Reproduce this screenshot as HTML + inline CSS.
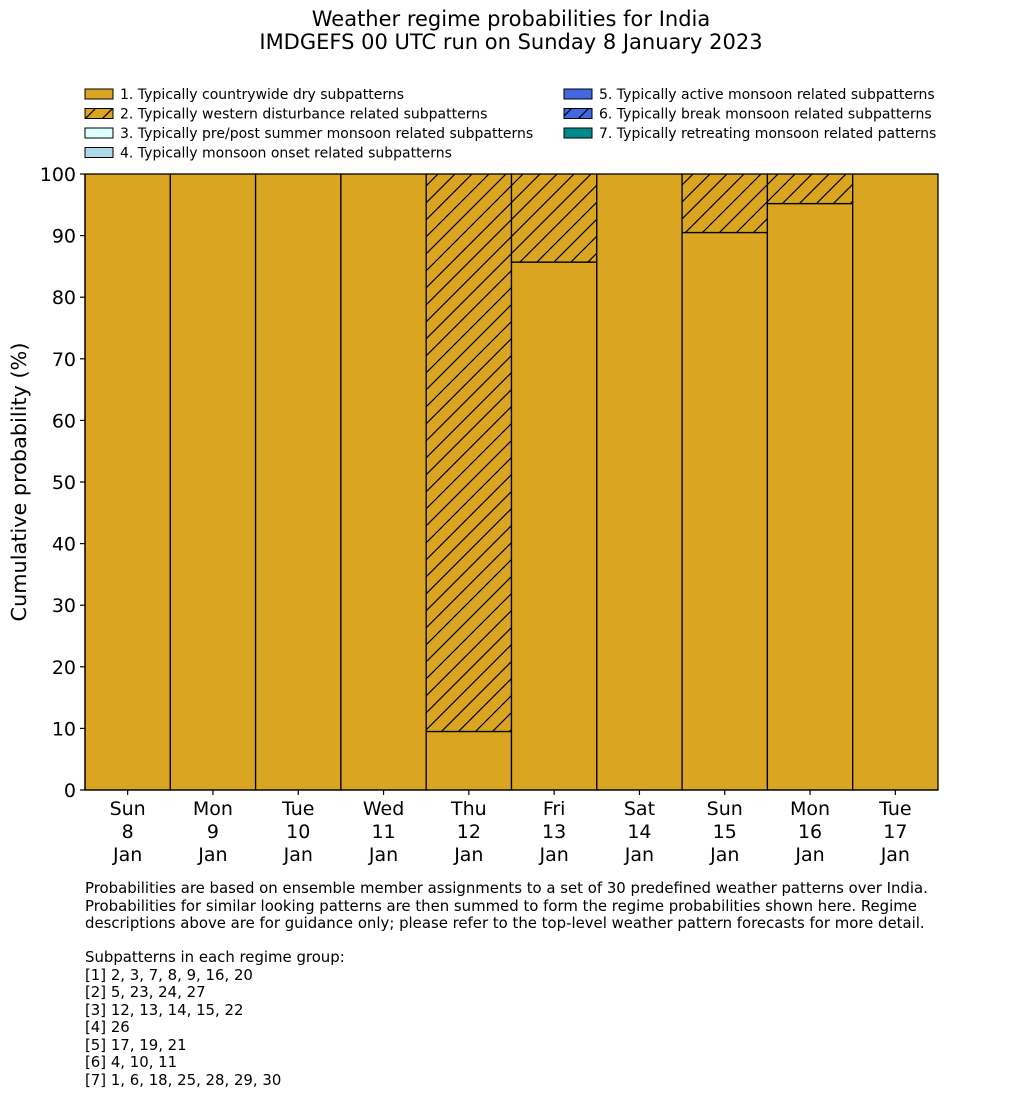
<!DOCTYPE html>
<html><head><meta charset="utf-8"><style>
html,body{margin:0;padding:0;background:#fff;}
svg{display:block;font-family:"DejaVu Sans","Liberation Sans",sans-serif;}
</style></head><body>
<svg id="chart" width="1033" height="1114" viewBox="0 0 1033 1114" xmlns="http://www.w3.org/2000/svg">
<defs>
<pattern id="hatch" patternUnits="userSpaceOnUse" width="17" height="17">
<rect width="17" height="17" fill="#DAA520"/>
<path d="M-2,2 L2,-2 M0,17 L17,0 M15,19 L19,15" stroke="#000" stroke-width="1.2"/>
</pattern>
<pattern id="hatch2" patternUnits="userSpaceOnUse" width="17" height="17">
<rect width="17" height="17" fill="#4169E1"/>
<path d="M-2,2 L2,-2 M0,17 L17,0 M15,19 L19,15" stroke="#000" stroke-width="1.2"/>
</pattern>
</defs>
<text x="511" y="26" font-size="21" text-anchor="middle">Weather regime probabilities for India</text>
<text x="511" y="49" font-size="21" text-anchor="middle">IMDGEFS 00 UTC run on Sunday 8 January 2023</text>
<g id="legend"></g>
<g id="bars"></g>
<g id="axes"></g>
<text transform="translate(26,482) rotate(-90)" font-size="20.8" text-anchor="middle">Cumulative probability (%)</text>
<g font-size="14.9">
<text x="85" y="893">Probabilities are based on ensemble member assignments to a set of 30 predefined weather patterns over India.</text>
<text x="85" y="911">Probabilities for similar looking patterns are then summed to form the regime probabilities shown here. Regime</text>
<text x="85" y="928">descriptions above are for guidance only; please refer to the top-level weather pattern forecasts for more detail.</text>
<text x="85" y="962">Subpatterns in each regime group:</text>
<text x="85" y="980">[1] 2, 3, 7, 8, 9, 16, 20</text>
<text x="85" y="997">[2] 5, 23, 24, 27</text>
<text x="85" y="1015">[3] 12, 13, 14, 15, 22</text>
<text x="85" y="1032">[4] 26</text>
<text x="85" y="1050">[5] 17, 19, 21</text>
<text x="85" y="1067">[6] 4, 10, 11</text>
<text x="85" y="1085">[7] 1, 6, 18, 25, 28, 29, 30</text>
</g>
</svg>
<script>
const dayNames = ["Sun","Mon","Tue","Wed","Thu","Fri","Sat","Sun","Mon","Tue"];
const dayNums = ["8","9","10","11","12","13","14","15","16","17"];
const regime1 = [100,100,100,100,9.5,85.7,100,90.5,95.2,100];
const regime2 = [0,0,0,0,90.5,14.3,0,9.5,4.8,0];
const regime3 = [0,0,0,0,0,0,0,0,0,0];
const regime4 = [0,0,0,0,0,0,0,0,0,0];
const regime5 = [0,0,0,0,0,0,0,0,0,0];
const regime6 = [0,0,0,0,0,0,0,0,0,0];
const regime7 = [0,0,0,0,0,0,0,0,0,0];
const yTicks = [0,10,20,30,40,50,60,70,80,90,100];
const legendLabels = ["1. Typically countrywide dry subpatterns","2. Typically western disturbance related subpatterns","3. Typically pre/post summer monsoon related subpatterns","4. Typically monsoon onset related subpatterns","5. Typically active monsoon related subpatterns","6. Typically break monsoon related subpatterns","7. Typically retreating monsoon related patterns"];
const fills = ["#DAA520","url(#hatch)","#E0FFFF","#ADD8E6","#4169E1","url(#hatch2)","#008B8B"];
const NS="http://www.w3.org/2000/svg";
const X0=85,X1=938,Y0=790,Y1=174;
const bw=(X1-X0)/dayNames.length;
const xs=i=>X0+i*bw;
const ys=v=>Y0-(v/100)*(Y0-Y1);
function mk(tag,attrs,parent){const e=document.createElementNS(NS,tag);for(const k in attrs)e.setAttribute(k,attrs[k]);parent.appendChild(e);return e;}
const bars=document.getElementById('bars');
const series=[regime1,regime2,regime3,regime4,regime5,regime6,regime7];
for(let i=0;i<dayNames.length;i++){
  let cum=0;
  series.forEach((s,k)=>{
    const v=s[i]; if(v<=0) return;
    const r=mk('rect',{x:xs(i),y:ys(cum+v),width:bw,height:ys(cum)-ys(cum+v),fill:fills[k],stroke:'#000','stroke-width':1.3},bars);
    
    
    cum+=v;
  });
}
const axes=document.getElementById('axes');
mk('path',{d:`M${X0},${Y1} L${X0},${Y0} L${X1},${Y0}`,fill:'none',stroke:'#000','stroke-width':1.3},axes);
yTicks.forEach(t=>{
  mk('line',{x1:X0-5,x2:X0,y1:ys(t),y2:ys(t),stroke:'#000','stroke-width':1.2},axes);
  const tx=mk('text',{x:X0-9,y:ys(t)+7,'font-size':19,'text-anchor':'end'},axes);
  tx.textContent=t;
  
  
});
dayNames.forEach((d,i)=>{
  const cx=xs(i)+bw/2;
  mk('line',{x1:cx,x2:cx,y1:Y0,y2:Y0+5,stroke:'#000','stroke-width':1.2},axes);
  [d,dayNums[i],"Jan"].forEach((s,j)=>{
    const tx=mk('text',{x:cx,y:815+j*23,'font-size':19,'text-anchor':'middle'},axes);
    tx.textContent=s;
    
    
  });
});
const lg=document.getElementById('legend');
legendLabels.forEach((l,k)=>{
  const col=k<4?0:1,row=k<4?k:k-4;
  const x=col?564:85,y=89+row*19.5;
  const r=mk('rect',{x:x,y:y,width:28,height:10,fill:fills[k],stroke:'#000','stroke-width':1},lg);
  
  
  const tx=mk('text',{x:x+35,y:y+10,'font-size':14},lg);
  tx.textContent=l;
  
  
});
</script>
</body></html>
